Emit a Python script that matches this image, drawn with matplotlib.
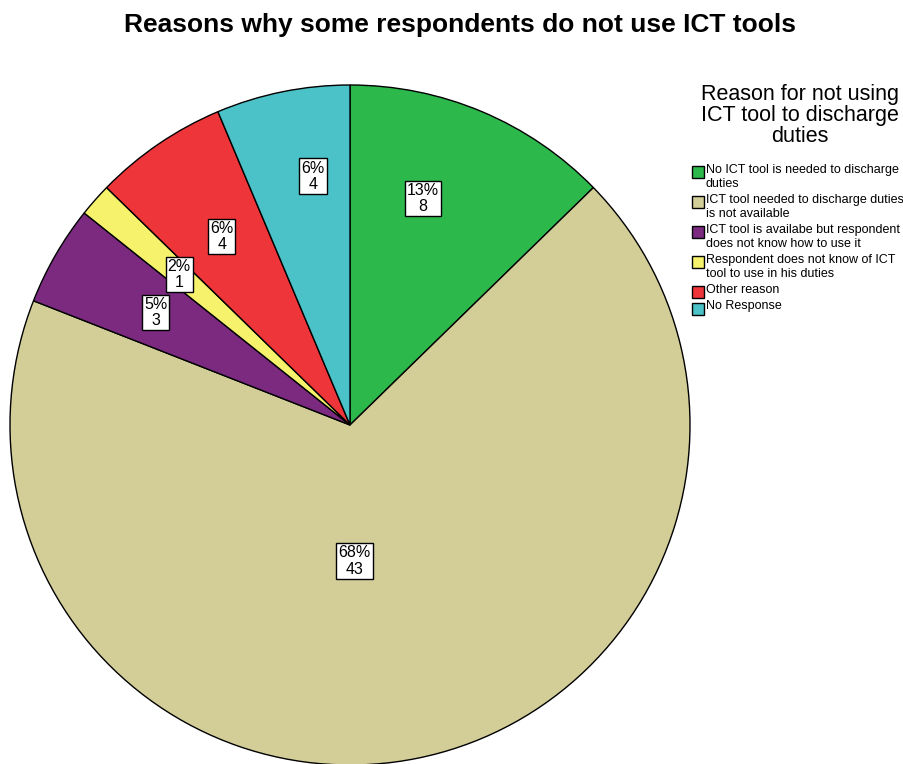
import numpy as np
import matplotlib.pyplot as plt
from matplotlib.patches import Rectangle

plt.rcParams['font.family'] = ['Liberation Sans', 'DejaVu Sans']

reasons = [
    'No ICT tool is needed to discharge\nduties',
    'ICT tool needed to discharge duties\nis not available',
    'ICT tool is availabe but respondent\ndoes not know how to use it',
    'Respondent does not know of ICT\ntool to use in his duties',
    'Other reason',
    'No Response',
]
counts = [8, 43, 3, 1, 4, 4]
colors = ['#2db84b', '#d3ce98', '#7b2a80', '#f6f26c', '#ee3539', '#4bc2c8']
# where each label sits: fraction of radius, and angle nudge in degrees
label_r = [0.70, 0.40, 0.66, 0.67, 0.67, 0.74]
label_shift = [5, -9.5, 0, 0, 0, -3]

fig = plt.figure(figsize=(9.04, 7.64), dpi=100)
W, H = 904, 764
cx, cy, R = 350, 425, 340
ax = fig.add_axes([(cx - R) / W, (H - cy - R) / H, 2 * R / W, 2 * R / H])
wedges, _ = ax.pie(counts, colors=colors, startangle=90, counterclock=False,
                   radius=1, wedgeprops=dict(edgecolor='black', linewidth=1))
ax.set_xlim(-1, 1)
ax.set_ylim(-1, 1)
ax.set_aspect('equal')
ax.axis('off')

total = sum(counts)
for w, n, r, s in zip(wedges, counts, label_r, label_shift):
    mid = np.deg2rad((w.theta1 + w.theta2) / 2 + s)
    pct = round(n / total * 100)
    ax.text(r * np.cos(mid), r * np.sin(mid), f'{pct}%\n{n}', ha='center', va='center',
            fontsize=11.5, linespacing=1.1,
            bbox=dict(facecolor='white', edgecolor='black', linewidth=1, pad=1.5))

fig.text(460 / W, 1 - 25 / H, 'Reasons why some respondents do not use ICT tools',
         ha='center', va='center', fontsize=19, fontweight='bold')

# legend, drawn by hand so the swatch sits on the first text line like SPSS does
fig.text(800 / W, 1 - 84 / H, 'Reason for not using\nICT tool to discharge\nduties',
         ha='center', va='top', fontsize=15.5, linespacing=1.0)
y = 164
line_h, gap = 13.5, 3
for c, lab in zip(colors, reasons):
    fig.add_artist(Rectangle((692 / W, 1 - (y + 14) / H), 12 / W, 12 / H,
                             facecolor=c, edgecolor='black', linewidth=1,
                             transform=fig.transFigure))
    fig.text(706 / W, 1 - y / H, lab, ha='left', va='top', fontsize=9, linespacing=1.2)
    y += line_h * (lab.count('\n') + 1) + gap

fig.savefig('out.png', dpi=100)
